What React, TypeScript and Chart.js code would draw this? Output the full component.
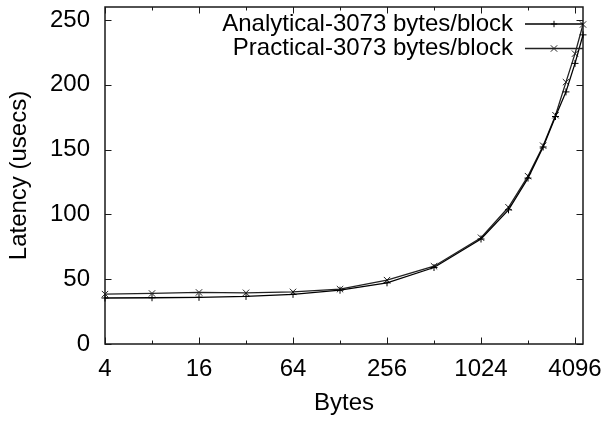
import React, { useEffect, useRef } from "react";
import { Chart, registerables } from "chart.js";

Chart.register(...registerables);

const bytes = [4, 8, 16, 32, 64, 128, 256, 512, 1024, 1536, 2048, 2560, 3072, 3584, 4096, 4608];
const analytical = [35.5, 35.7, 36, 36.7, 38.3, 41.5, 47.2, 59, 81, 103.5, 128, 152, 175.5, 194.5, 216.5, 238.5];
const practical = [38.5, 39, 39.8, 39.5, 40.2, 42.3, 49.3, 60, 82, 105.5, 129.5, 153, 176.5, 202, 224, 246.5];
const xTickValues = [4, 8, 16, 32, 64, 128, 256, 512, 1024, 2048, 4096];
const xTickLabels = [4, 16, 64, 256, 1024, 4096];
const yTickValues = [0, 50, 100, 150, 200, 250];
const seriesNames = ["Analytical-3073 bytes/block", "Practical-3073 bytes/block"];
const xTitle = "Bytes";
const yTitle = "Latency (usecs)";

const FONT_FAMILY = '"Liberation Sans", Arial, Helvetica, sans-serif';
const FONT = { family: FONT_FAMILY, size: 24 };

const framePlugin = {
  id: "gnuplotFrame",
  beforeDatasetsDraw(chart: any) {
    const { ctx, chartArea: a, scales } = chart;
    const xs = scales.x;
    const ys = scales.y;
    ctx.save();
    ctx.strokeStyle = "#1a1a1a";
    ctx.lineWidth = 1;
    ctx.beginPath();
    xTickValues.forEach((v) => {
      const px = Math.round(xs.getPixelForValue(v)) + 0.5;
      const len = xTickLabels.includes(v) ? 6.5 : 3.5;
      ctx.moveTo(px, a.bottom);
      ctx.lineTo(px, a.bottom - len);
      ctx.moveTo(px, a.top);
      ctx.lineTo(px, a.top + len);
    });
    yTickValues.forEach((v) => {
      const py = Math.round(ys.getPixelForValue(v)) + 0.5;
      ctx.moveTo(a.left, py);
      ctx.lineTo(a.left + 6.5, py);
      ctx.moveTo(a.right, py);
      ctx.lineTo(a.right - 6.5, py);
    });
    ctx.stroke();
    ctx.lineWidth = 1.5;
    ctx.strokeRect(a.left, a.top, a.right - a.left, a.bottom - a.top);
    ctx.restore();
  },
  afterDraw(chart: any) {
    const { ctx, chartArea: a } = chart;
    ctx.save();
    ctx.font = `24px ${FONT_FAMILY}`;
    ctx.textAlign = "right";
    ctx.textBaseline = "middle";
    const textRight = 513;
    const lineStart = 525;
    const lineEnd = a.right;
    const rows = [24, 48.5];
    chart.data.datasets.forEach((ds: any, i: number) => {
      const y = rows[i];
      ctx.fillStyle = "#000";
      ctx.fillText(ds.label, textRight, y);
      ctx.strokeStyle = ds.borderColor;
      ctx.lineWidth = 1.3;
      ctx.beginPath();
      ctx.moveTo(lineStart, y);
      ctx.lineTo(lineEnd, y);
      ctx.stroke();
      const cx = (lineStart + lineEnd) / 2;
      const r = 3.2;
      ctx.lineWidth = 1;
      ctx.beginPath();
      if (ds.pointStyle === "cross") {
        ctx.moveTo(cx - r, y);
        ctx.lineTo(cx + r, y);
        ctx.moveTo(cx, y - r);
        ctx.lineTo(cx, y + r);
      } else {
        ctx.moveTo(cx - r, y - r);
        ctx.lineTo(cx + r, y + r);
        ctx.moveTo(cx - r, y + r);
        ctx.lineTo(cx + r, y - r);
      }
      ctx.stroke();
    });
    ctx.restore();
  },
};

export default function App() {
  const canvasRef = useRef<HTMLCanvasElement | null>(null);

  useEffect(() => {
    if (!canvasRef.current) return;
    const chart = new Chart(canvasRef.current, {
      type: "line",
      data: {
        datasets: [
          {
            label: seriesNames[0],
            data: bytes.map((x, i) => ({ x, y: analytical[i] })),
            borderColor: "#000000",
            backgroundColor: "#000000",
            borderWidth: 1.3,
            pointStyle: "cross",
            pointRadius: 3.5,
            pointBorderWidth: 1,
            fill: false,
            tension: 0,
            clip: false as any,
          },
          {
            label: seriesNames[1],
            data: bytes.map((x, i) => ({ x, y: practical[i] })),
            borderColor: "#222222",
            backgroundColor: "#222222",
            borderWidth: 1.3,
            pointStyle: "crossRot",
            pointRadius: 4.5,
            pointBorderWidth: 1,
            fill: false,
            tension: 0,
            clip: false as any,
          },
        ],
      },
      options: {
        responsive: false,
        animation: false,
        layout: { padding: { left: 0, right: 20, top: 7, bottom: 0 } },
        plugins: {
          legend: { display: false },
          title: { display: false },
          tooltip: { enabled: false },
        },
        scales: {
          x: {
            type: "logarithmic",
            min: 4,
            max: 4608,
            afterBuildTicks: (s: any) => {
              s.ticks = xTickValues.map((v) => ({ value: v }));
            },
            ticks: {
              autoSkip: false,
              maxRotation: 0,
              minRotation: 0,
              padding: 11,
              color: "#000",
              font: FONT,
              callback: (v: any) => (xTickLabels.includes(Number(v)) ? String(v) : ""),
            },
            grid: { display: false, drawTicks: false },
            border: { display: false },
            title: {
              display: true,
              text: xTitle,
              color: "#000",
              font: FONT,
              padding: { top: 0, bottom: 5.6 },
            },
            afterFit: (s: any) => {
              s.height = 79;
              s.paddingLeft = 0;
              s.paddingRight = 0;
            },
          },
          y: {
            type: "linear",
            min: 0,
            max: 260,
            afterBuildTicks: (s: any) => {
              s.ticks = yTickValues.map((v) => ({ value: v }));
            },
            ticks: {
              padding: 15,
              color: "#000",
              font: FONT,
            },
            grid: { display: false, drawTicks: false },
            border: { display: false },
            title: {
              display: true,
              text: yTitle,
              color: "#000",
              font: FONT,
              padding: { top: 4.6, bottom: 0 },
            },
            afterFit: (s: any) => {
              s.width = 105;
              s.paddingTop = 0;
              s.paddingBottom = 0;
            },
          },
        },
      },
      plugins: [framePlugin],
    });
    return () => chart.destroy();
  }, []);

  return (
    <div style={{ position: "absolute", left: 0, top: 0, width: 603, height: 423, background: "#fff" }}>
      <canvas ref={canvasRef} width={603} height={423} style={{ display: "block" }} />
    </div>
  );
}
